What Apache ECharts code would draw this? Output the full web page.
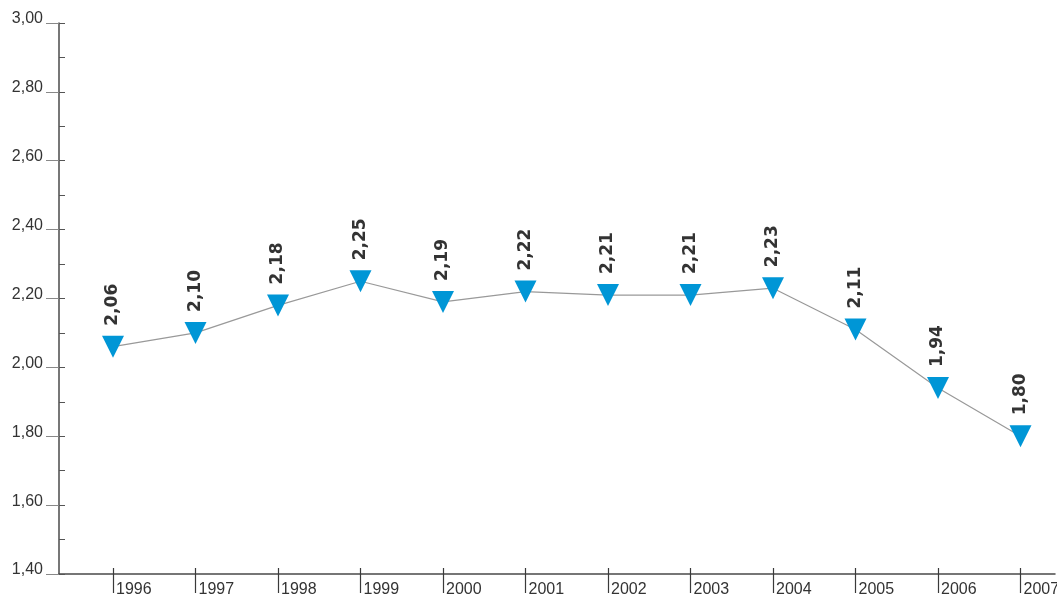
<!DOCTYPE html>
<html>
<head>
<meta charset="utf-8">
<script src="https://cdn.jsdelivr.net/npm/echarts@6/dist/echarts.min.js"></script>
<style>
html,body{margin:0;padding:0;background:#fff;}
#chart{width:1057px;height:595px;}
</style>
</head>
<body>
<div id="chart"></div>
<script>
const years = [1996, 1997, 1998, 1999, 2000, 2001, 2002, 2003, 2004, 2005, 2006, 2007];
const values = [2.06, 2.10, 2.18, 2.25, 2.19, 2.22, 2.21, 2.21, 2.23, 2.11, 1.94, 1.80];
const yMin = 1.4, yMax = 3.0, yStep = 0.2, yMinorStep = 0.1;
const xMin = 1995.3455, xMax = 2007.418;

const fmt = v => Number(v).toFixed(2).replace('.', ',');

const chart = echarts.init(document.getElementById('chart'));
chart.setOption({
  animation: false,
  backgroundColor: '#ffffff',
  grid: { left: 59, right: 2, top: 23, bottom: 21, containLabel: false, outerBoundsMode: 'none' },
  xAxis: [
    {
      type: 'value', min: xMin, max: xMax, position: 'bottom',
      splitLine: { show: false },
      axisLine: { show: true, lineStyle: { color: '#4a4a4a', width: 1.5 } },
      axisTick: { show: true, inside: false, length: 19, customValues: years, lineStyle: { color: '#3a3a3a', width: 1.2 } },
      axisLabel: {
        show: true, customValues: years, align: 'left', margin: 8, padding: [0, 0, 0, 3],
        color: '#333', fontFamily: 'Liberation Sans, Arial, sans-serif', fontSize: 16,
        formatter: v => String(Math.round(v))
      }
    },
    {
      type: 'value', min: xMin, max: xMax, position: 'bottom',
      splitLine: { show: false },
      axisLine: { show: false },
      axisTick: { show: true, inside: true, length: 6, customValues: years, lineStyle: { color: '#3a3a3a', width: 1.2 } },
      axisLabel: { show: false }
    }
  ],
  yAxis: [
    {
      type: 'value', min: yMin, max: yMax, interval: yStep, position: 'left',
      splitLine: { show: false },
      axisLine: { show: true, lineStyle: { color: '#4a4a4a', width: 1.5 } },
      axisTick: { show: true, inside: false, length: 13, lineStyle: { color: '#888', width: 1 } },
      axisLabel: {
        show: true, margin: 16, verticalAlign: 'bottom', lineHeight: 8,
        color: '#333', fontFamily: 'Liberation Sans, Arial, sans-serif', fontSize: 16,
        formatter: v => fmt(v)
      }
    },
    {
      type: 'value', min: yMin, max: yMax, interval: yMinorStep, position: 'left',
      splitLine: { show: false },
      axisLine: { show: false },
      axisTick: { show: true, inside: true, length: 6, lineStyle: { color: '#555', width: 1 } },
      axisLabel: { show: false }
    }
  ],
  series: [{
    type: 'line',
    xAxisIndex: 0, yAxisIndex: 0,
    data: years.map((y, i) => [y, values[i]]),
    lineStyle: { color: '#999', width: 1.2 },
    symbol: 'triangle', symbolRotate: 180, symbolSize: [22, 22],
    itemStyle: { color: '#0096d6' },
    label: {
      show: true, position: 'top', distance: 10, rotate: 90,
      align: 'left', verticalAlign: 'middle',
      color: '#333', fontWeight: 'bold', fontSize: 17,
      fontFamily: 'DejaVu Sans, sans-serif',
      formatter: p => fmt(p.value[1])
    }
  }]
});
</script>
</body>
</html>
